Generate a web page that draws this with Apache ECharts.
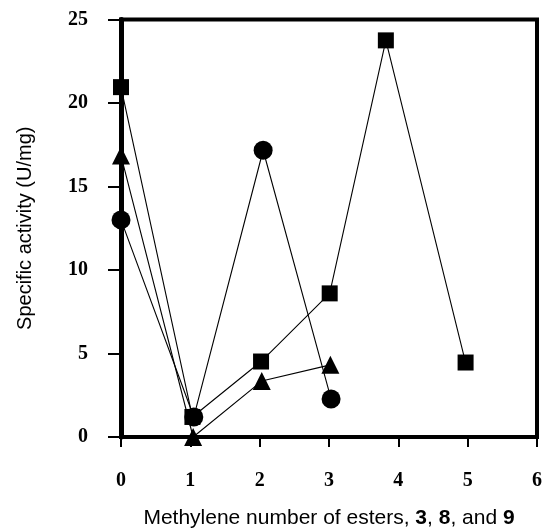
<!DOCTYPE html>
<html>
<head>
<meta charset="utf-8">
<script src="https://cdn.jsdelivr.net/npm/echarts@6/dist/echarts.min.js"></script>
<style>html,body{margin:0;padding:0;background:#fff}#c{width:542px;height:529px}</style>
</head>
<body>
<div id="c"></div>
<script>
// Data
var squareX = [0, 1.03, 2.02, 3.01, 3.82, 4.97];
var squareY = [20.95, 1.2, 4.52, 8.6, 23.75, 4.46];
var circleX = [0, 1.05, 2.05, 3.03];
var circleY = [13.0, 1.2, 17.17, 2.28];
var triX = [0, 1.04, 2.03, 3.02];
var triY = [16.85, 0.0, 3.35, 4.32];
var xTicks = [0, 1, 2, 3, 4, 5, 6];
var yTicks = [0, 5, 10, 15, 20, 25];

function pairs(xs, ys) { return xs.map(function (x, i) { return [x, ys[i]]; }); }

var chart = echarts.init(document.getElementById('c'));
var labelStyle = { fontFamily: 'Liberation Serif', fontWeight: 'bold', fontSize: 20, color: '#000' };
chart.setOption({
  animation: false,
  backgroundColor: '#fff',
  grid: { left: 121, right: 5, top: 19.5, bottom: 92, outerBoundsMode: 'none', containLabel: false,
    show: true, borderColor: '#000', borderWidth: 4, backgroundColor: 'transparent' },
  xAxis: {
    type: 'value', min: xTicks[0], max: xTicks[xTicks.length - 1], interval: 1,
    axisLine: { lineStyle: { color: '#000', width: 4 } },
    axisTick: { show: true, inside: false, length: 10, lineStyle: { color: '#000', width: 2 } },
    axisLabel: Object.assign({ margin: 34 }, labelStyle),
    splitLine: { show: false },
    name: 'Methylene number of esters, {b|3}, {b|8}, and {b|9}',
    nameLocation: 'middle', nameGap: 71,
    nameTextStyle: { fontFamily: 'Liberation Sans', fontSize: 21, color: '#000',
      rich: { b: { fontFamily: 'Liberation Sans', fontWeight: 'bold', fontSize: 21, color: '#000' } } }
  },
  yAxis: {
    type: 'value', min: yTicks[0], max: yTicks[yTicks.length - 1], interval: 5,
    axisLine: { lineStyle: { color: '#000', width: 5 } },
    axisTick: { show: true, inside: false, length: 13, lineStyle: { color: '#000', width: 2 } },
    axisLabel: Object.assign({ margin: 33 }, labelStyle),
    splitLine: { show: false },
    name: 'Specific activity (U/mg)',
    nameLocation: 'middle', nameGap: 86,
    nameTextStyle: { fontFamily: 'Liberation Sans', fontSize: 20, color: '#000' }
  },
  series: [
    { type: 'line', data: pairs(squareX, squareY), symbol: 'rect', symbolSize: 16, clip: false,
      lineStyle: { color: '#000', width: 1.1 }, itemStyle: { color: '#000' } },
    { type: 'line', data: pairs(triX, triY), symbol: 'triangle', symbolSize: 18, clip: false,
      lineStyle: { color: '#000', width: 1.1 }, itemStyle: { color: '#000' } },
    { type: 'line', data: pairs(circleX, circleY), symbol: 'circle', symbolSize: 19, clip: false,
      lineStyle: { color: '#000', width: 1.1 }, itemStyle: { color: '#000' } }
  ]
});
</script>
</body>
</html>
